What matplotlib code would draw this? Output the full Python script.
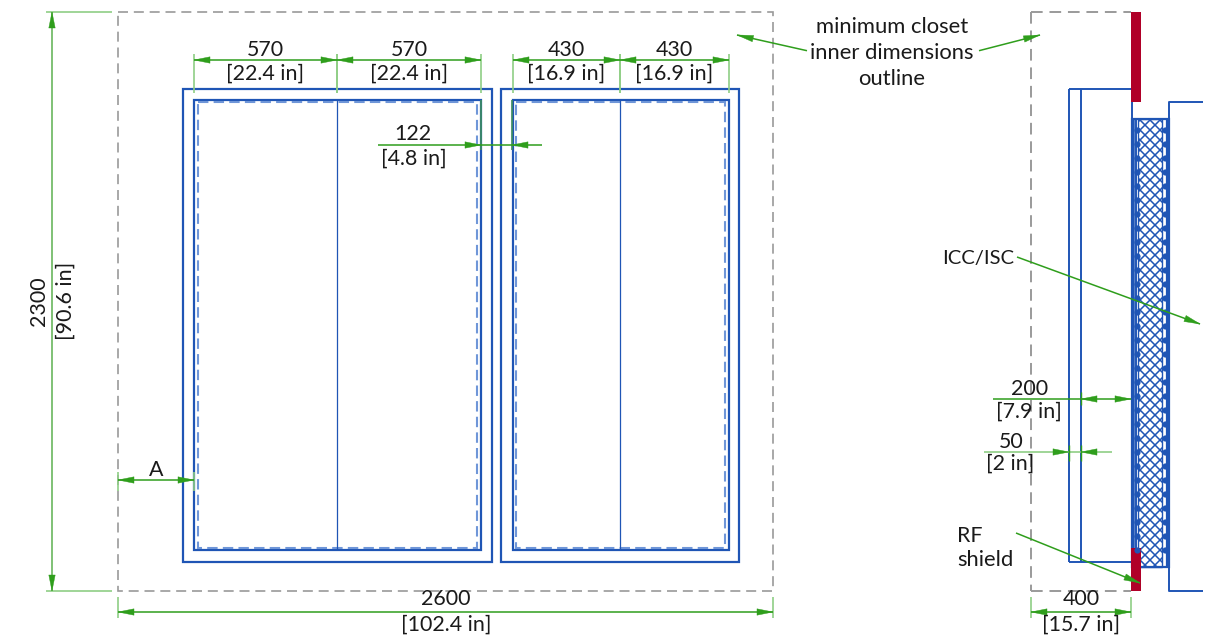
import matplotlib
matplotlib.use("Agg")
import matplotlib.pyplot as plt
from matplotlib.patches import Rectangle, Polygon

plt.rcParams['font.family'] = ['Lato', 'DejaVu Sans']

BLUE = '#1f55b5'
LBLUE = '#6f96d8'
GREEN = '#2f9e1c'
LGREEN = '#8fce85'
GRAY = '#9a9a9a'
RED = '#b00028'
TXT = '#1a1a1a'

# drawing geometry (pixel units)
outline_front = (118, 12, 773, 591)
outline_side = (1031, 12, 1131, 591)
door_frames = [(183, 89, 492, 562), (501, 89, 739, 562)]
door_inner = [(194, 100, 481, 550), (513, 100, 729, 550)]
door_dashed = [(198, 102, 477, 548), (516, 102, 725, 548)]
door_centres = [337, 620]
top_dim_y = 60
top_dim_x = [(194, 337), (337, 481), (513, 620), (620, 729)]
top_labels = [('570', '[22.4 in]'), ('570', '[22.4 in]'), ('430', '[16.9 in]'), ('430', '[16.9 in]')]

fig = plt.figure(figsize=(12.15, 6.38), dpi=100)
ax = fig.add_axes([0, 0, 1, 1])
ax.set_xlim(0, 1215)
ax.set_ylim(638, 0)
ax.axis('off')


def box(b, c=BLUE, lw=1.6, ls='-', z=3):
    ax.add_patch(Rectangle((b[0], b[1]), b[2] - b[0], b[3] - b[1], fill=False, ec=c, lw=lw, ls=ls, zorder=z))


def line(xs, ys, c=BLUE, lw=1.5, z=3, ls='-'):
    return ax.plot(xs, ys, color=c, lw=lw, zorder=z, ls=ls, solid_capstyle='butt')[0]


def head(tip, tail, w=3.2):
    dx, dy = tail[0] - tip[0], tail[1] - tip[1]
    n = (dx * dx + dy * dy) ** 0.5
    px, py = -dy / n * w, dx / n * w
    ax.add_patch(Polygon([tip, (tail[0] + px, tail[1] + py), (tail[0] - px, tail[1] - py)],
                         closed=True, fc=GREEN, ec=GREEN, lw=0.3, zorder=6))


def hdim(y, x0, x1, ext=None):
    line([x0, x1], [y, y], GREEN, 1.1, 5)
    head((x0, y), (x0 + 16, y))
    head((x1, y), (x1 - 16, y))
    if ext:
        for x in (x0, x1):
            line([x, x], ext, LGREEN, 1.2, 4)


def label(x, y, s, rot=0, size=15.4, ha='center'):
    ax.text(x, y, s, ha=ha, va='center', fontsize=size, color=TXT, rotation=rot, zorder=8)


# dashed closet outlines
dash = (0, (6, 3.5))
box(outline_front, GRAY, 1.2, dash, 2)
line([1031, 1031], [12, 591], GRAY, 1.4, 2, dash)
line([1031, 1131], [12, 12], GRAY, 1.4, 2, dash)
line([1031, 1131], [591, 591], GRAY, 1.4, 2, dash)

# doors
for b in door_frames:
    box(b, BLUE, 1.6)
for b in door_inner:
    box(b, BLUE, 1.6)
for b in door_dashed:
    box(b, LBLUE, 1.5, (0, (5, 2.5)))
for x in door_centres:
    line([x, x], [100, 550], BLUE, 0.9)

# top dimensions
for (x0, x1), (a, b) in zip(top_dim_x, top_labels):
    hdim(top_dim_y, x0, x1, ext=(54, 93))
    label((x0 + x1) / 2, 50, a)
    label((x0 + x1) / 2, 74, b)

# 122
line([378, 542], [145, 145], GREEN, 1.1, 5)
head((481, 145), (465, 145))
head((512, 145), (528, 145))
line([481, 481], [100, 150], '#3f8f5f', 1.2, 4)
line([512, 512], [100, 150], '#3f8f5f', 1.2, 4)
label(413, 134.5, '122')
label(414, 158.5, '[4.8 in]')

# A
hdim(480, 118, 194, ext=(472, 491))
label(156, 470, 'A')

# 2300
line([52, 52], [12, 591], '#5cb04f', 1.1, 5)
head((52, 12), (52, 28))
head((52, 591), (52, 575))
line([46, 112], [12, 12], LGREEN, 1.2, 4)
line([46, 112], [591, 591], LGREEN, 1.2, 4)
label(39, 301.5, '2300', 90)
label(65.5, 301, '[90.6 in]', 90)

# 2600 and 400
hdim(612, 118, 773, ext=(597, 618))
label(446, 599, '2600')
label(446, 625, '[102.4 in]')
hdim(612, 1031, 1131, ext=(597, 618))
label(1081, 599, '400')
label(1081, 625, '[15.7 in]')

# side view
line([1069, 1069], [89, 562], BLUE, 1.4)
line([1081, 1081], [89, 562], BLUE, 1.4)
line([1069, 1132], [89, 89], BLUE, 1.4)
line([1069, 1132], [562, 562], BLUE, 1.4)
line([1132, 1132], [89, 119], BLUE, 1.4)
ax.add_patch(Rectangle((1131, 12), 10, 90, fc=RED, ec='none', zorder=4))
ax.add_patch(Rectangle((1131, 548), 10, 43, fc=RED, ec='none', zorder=4))

# cross-hatched ICC/ISC core
core = Rectangle((1138, 119), 24, 448, fc='white', ec=BLUE, lw=1.0, zorder=3)
ax.add_patch(core)
for c in range(-1200, 1800, 10):
    for s in (1, -1):
        ln = line([1100, 1200], [s * 1100 + c, s * 1200 + c], BLUE, 1.1, 3)
        ln.set_clip_path(core)
box((1132, 119, 1169, 567), BLUE, 1.6, z=3)
for x, lw in [(1133, 1.8), (1135.5, 1.4), (1167, 1.6)]:
    line([x, x], [119, 567], BLUE, lw, 3)
dot_y = list(range(130, 560, 14))
ax.scatter([1137] * len(dot_y), dot_y, s=20, color=BLUE, zorder=4, linewidths=0)
ax.scatter([1164.5] * len(dot_y), dot_y, s=20, color=BLUE, zorder=4, linewidths=0)
line([1203, 1169, 1169], [102, 102, 119], BLUE, 1.4)
line([1169, 1169, 1203], [567, 591, 591], BLUE, 1.4)

# 200 and 50
line([993, 1131], [399, 399], GREEN, 1.1, 5)
head((1081, 399), (1097, 399))
head((1131, 399), (1115, 399))
line([984, 1112], [452, 452], LGREEN, 1.2, 5)
head((1069, 452), (1053, 452))
head((1081, 452), (1097, 452))
line([1069, 1069], [445, 461], GREEN, 1.0, 5)
line([1081, 1081], [445, 461], GREEN, 1.0, 5)
line([1081, 1081], [392, 405], GREEN, 1.0, 5)
label(1030, 389, '200')
label(1029, 412, '[7.9 in]')
label(1011, 442, '50')
label(1010, 464, '[2 in]')

# leaders
line([807, 737], [50.7, 35], GREEN, 1.1, 5)
head((737, 35), (753, 38.6))
line([979, 1040], [50.7, 35], GREEN, 1.1, 5)
head((1040, 35), (1024, 39))
line([1017, 1200], [257, 324], GREEN, 1.1, 5)
head((1200, 324), (1185, 318.5))
line([1016, 1140], [533, 583], GREEN, 1.1, 5)
head((1140, 583), (1125, 577))

label(892, 27, 'minimum closet', size=15.8)
label(892, 53, 'inner dimensions', size=15.8)
label(892, 79, 'outline', size=15.8)
label(978.5, 258.5, 'ICC/ISC', size=14.6)
label(957, 535.5, 'RF', ha='left')
label(957, 560.5, 'shield', ha='left', size=15.8)

fig.savefig('out.png', dpi=100, facecolor='white')
